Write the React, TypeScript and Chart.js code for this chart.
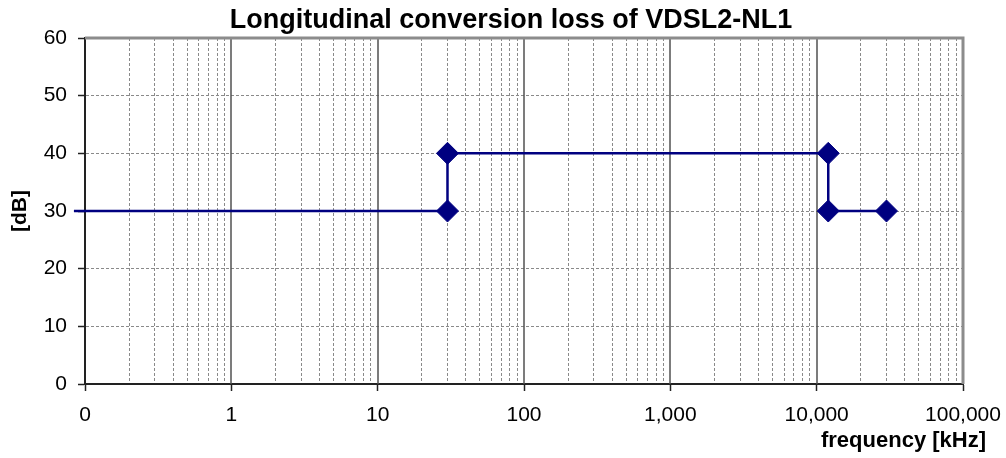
import React, { useEffect, useRef } from 'react';
import { Chart, registerables } from 'chart.js';

Chart.register(...registerables);

const TITLE = 'Longitudinal conversion loss of VDSL2-NL1';
const X_TITLE = 'frequency [kHz]';
const Y_TITLE = '[dB]';

const freqKHz = [0.084, 30, 30, 12000, 12000, 30000];
const lossDb = [30, 30, 40, 40, 30, 30];
const markerRadius = [0, 11, 11, 11, 11, 11];

const decadeTicks = [0.1, 1, 10, 100, 1000, 10000, 100000];
const decadeLabels = ['0', '1', '10', '100', '1,000', '10,000', '100,000'];
const minorMultipliers = [2, 3, 4, 5, 6, 7, 8, 9];
const yMin = 0;
const yMax = 60;
const yStep = 10;

const FONT = '"Liberation Sans", Arial, Helvetica, sans-serif';

const isDecade = (v: number) => decadeTicks.indexOf(v) >= 0;

const allXTicks: number[] = [];
decadeTicks.forEach((d, i) => {
  allXTicks.push(d);
  if (i < decadeTicks.length - 1) minorMultipliers.forEach((m) => allXTicks.push(m * d));
});

const decorPlugin = {
  id: 'decor',
  beforeDatasetsDraw(chart: any) {
    const { ctx, chartArea: a, scales } = chart;
    const x = scales.x;
    ctx.save();
    ctx.strokeStyle = '#505050';
    ctx.lineWidth = 1.5;
    decadeTicks.slice(1, -1).forEach((v) => {
      const px = Math.round(x.getPixelForValue(v));
      ctx.beginPath();
      ctx.moveTo(px, a.top);
      ctx.lineTo(px, a.bottom);
      ctx.stroke();
    });
    ctx.strokeStyle = '#8c8c8c';
    ctx.lineWidth = 3;
    ctx.beginPath();
    ctx.moveTo(a.left, a.top);
    ctx.lineTo(a.right, a.top);
    ctx.lineTo(a.right, a.bottom);
    ctx.stroke();
    ctx.restore();
  },
  afterDraw(chart: any) {
    const { ctx } = chart;
    ctx.save();
    ctx.fillStyle = '#000';
    ctx.textBaseline = 'alphabetic';
    ctx.font = `bold 27px ${FONT}`;
    ctx.textAlign = 'center';
    ctx.fillText(TITLE, 511, 28);
    ctx.font = `bold 22px ${FONT}`;
    ctx.textAlign = 'right';
    ctx.fillText(X_TITLE, 986, 447);
    ctx.restore();
  },
};

export default function App() {
  const ref = useRef<HTMLCanvasElement | null>(null);

  useEffect(() => {
    if (!ref.current) return;
    const chart = new Chart(ref.current, {
      type: 'line',
      data: {
        datasets: [
          {
            data: freqKHz.map((f, i) => ({ x: f, y: lossDb[i] })),
            borderColor: '#000080',
            backgroundColor: '#000080',
            borderWidth: 2.5,
            pointStyle: 'rectRot',
            pointRadius: markerRadius,
            pointHoverRadius: markerRadius,
            pointBackgroundColor: '#000080',
            pointBorderColor: '#000080',
            pointBorderWidth: 1,
            tension: 0,
            fill: false,
            clip: false as any,
          },
        ],
      },
      options: {
        animation: false,
        responsive: false,
        devicePixelRatio: 1,
        layout: { padding: { left: 0, right: 43, top: 38, bottom: 0 } },
        plugins: {
          legend: { display: false },
          tooltip: { enabled: false },
          title: { display: false },
        },
        scales: {
          x: {
            type: 'logarithmic',
            min: 0.1,
            max: 100000,
            afterBuildTicks: (scale: any) => {
              scale.ticks = allXTicks.map((v) => ({ value: v }));
            },
            afterFit: (scale: any) => {
              scale.height = 74;
              scale.paddingLeft = 0;
              scale.paddingRight = 0;
            },
            ticks: {
              autoSkip: false,
              maxRotation: 0,
              minRotation: 0,
              padding: 12,
              color: '#000',
              font: { family: FONT, size: 21 },
              callback: (value: any) => {
                const idx = decadeTicks.indexOf(Number(value));
                return idx >= 0 ? decadeLabels[idx] : '';
              },
            },
            grid: {
              color: (c: any) => (c.tick && isDecade(c.tick.value) ? 'rgba(0,0,0,0)' : '#8a8a8a'),
              lineWidth: 1,
              tickLength: 7,
              tickWidth: 1.5,
              tickColor: (c: any) => (c.tick && isDecade(c.tick.value) ? '#222' : 'rgba(0,0,0,0)'),
            },
            border: { display: true, color: '#222', width: 2, dash: [3, 2] },
          },
          y: {
            type: 'linear',
            min: yMin,
            max: yMax,
            afterFit: (scale: any) => {
              scale.width = 85;
            },
            ticks: {
              stepSize: yStep,
              padding: 11,
              color: '#000',
              font: { family: FONT, size: 21 },
            },
            grid: {
              color: (c: any) => (c.tick && (c.tick.value === yMin || c.tick.value === yMax) ? 'rgba(0,0,0,0)' : '#8a8a8a'),
              lineWidth: 1,
              tickLength: 7,
              tickWidth: 1.5,
              tickColor: '#222',
            },
            border: { display: true, color: '#222', width: 2, dash: [3, 2] },
            title: {
              display: true,
              text: Y_TITLE,
              color: '#000',
              font: { family: FONT, size: 21, weight: 'bold' },
              padding: { top: 8, bottom: 0 },
            },
          },
        },
      },
      plugins: [decorPlugin],
    } as any);
    return () => chart.destroy();
  }, []);

  return (
    <div style={{ position: 'fixed', left: 0, top: 0, width: 1006, height: 458, background: '#fff' }}>
      <canvas ref={ref} width={1006} height={458} style={{ display: 'block', width: 1006, height: 458 }} />
    </div>
  );
}
